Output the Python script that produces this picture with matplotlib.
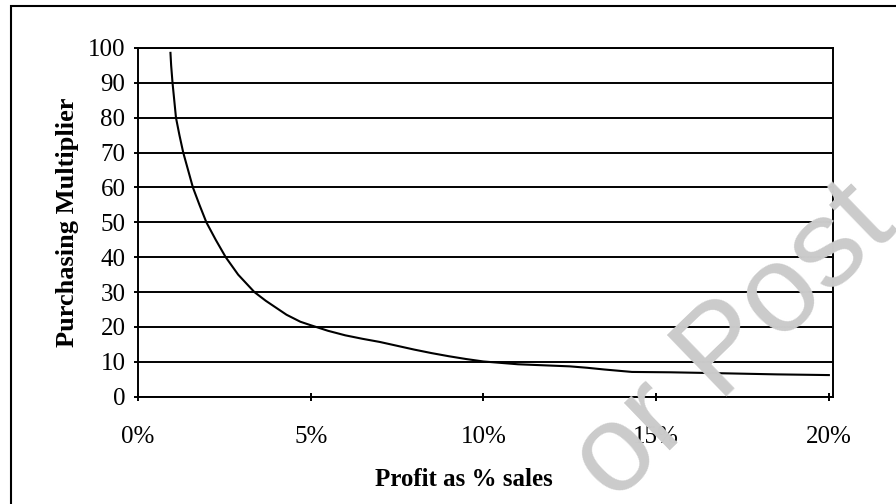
import matplotlib
matplotlib.use("Agg")
import matplotlib.pyplot as plt
from matplotlib.patches import Rectangle

# Values (profit in %, purchasing multiplier)
profit_pct = [0.94, 0.96, 1.0, 1.05, 1.1, 1.2, 1.31, 1.45, 1.59, 1.78, 1.98,
              2.25, 2.54, 2.9, 3.37, 3.7, 4.0, 4.3, 4.7, 5.0, 5.5,
              6.0, 6.5, 7.0, 7.5, 8.0, 8.5, 9.0, 9.5, 10.0, 10.5, 11.0,
              12.0, 12.5, 13.0, 13.5, 14.3, 15.4, 16.5, 17.5, 18.5, 20.0]
multiplier = [98.6, 95, 90, 85, 80, 75, 70, 65, 60, 55, 50,
              45, 40, 35, 30, 27.5, 25.5, 23.5, 21.5, 20.5, 18.9,
              17.6, 16.6, 15.7, 14.6, 13.5, 12.5, 11.6, 10.8, 10.1, 9.7, 9.3,
              8.9, 8.7, 8.3, 7.8, 7.1, 7.0, 6.8, 6.6, 6.4, 6.2]

x_ticks = [0, 5, 10, 15, 20]
x_tick_labels = ["0%", "5%", "10%", "15%", "20%"]
y_ticks = list(range(0, 101, 10))

plt.rcParams['font.family'] = ['Liberation Serif', 'DejaVu Serif']

fig = plt.figure(figsize=(8.96, 5.04), dpi=100)
ax = fig.add_axes([0.154, 0.2129, 0.7757, 0.6919])

# faint watermark behind the chart
fig.text(0.82, 0.318, "or Post", family="Liberation Sans", fontsize=90,
         color="#cbcbcb", rotation=44, ha="center", va="center",
         rotation_mode="anchor", zorder=0)
ax.patch.set_alpha(0)

ax.plot(profit_pct, multiplier, color="black", linewidth=1.5, zorder=3,
        solid_joinstyle="round")

ax.set_xlim(0.09, 20.12)
ax.set_ylim(0, 100)
ax.set_xticks(x_ticks)
ax.set_xticklabels(x_tick_labels)
ax.set_yticks(y_ticks)
ax.yaxis.grid(True, color="black", linewidth=1.4)
ax.set_axisbelow(False)

for side in ax.spines.values():
    side.set_linewidth(1.4)
    side.set_color("black")

ax.tick_params(axis="x", direction="inout", length=6, width=1.4, pad=18, labelsize=18)
ax.tick_params(axis="y", direction="out", length=3, width=1.4, pad=6, labelsize=18)

ax.set_xlabel("Profit as % sales", fontsize=18, fontweight="bold", va="center")
ax.xaxis.set_label_coords(0.469, -0.238)
ax.set_ylabel("Purchasing Multiplier", fontsize=19, fontweight="bold", va="center")
ax.yaxis.set_label_coords(-0.102, 0.5)

# outer frame (right and bottom edges fall outside the picture)
fig.patches.append(Rectangle((11 / 896, -0.1), 1.2, 1.1 - 6 / 504,
                             transform=fig.transFigure, fill=False,
                             edgecolor="black", linewidth=1.5))

fig.savefig("out.png", dpi=100)
